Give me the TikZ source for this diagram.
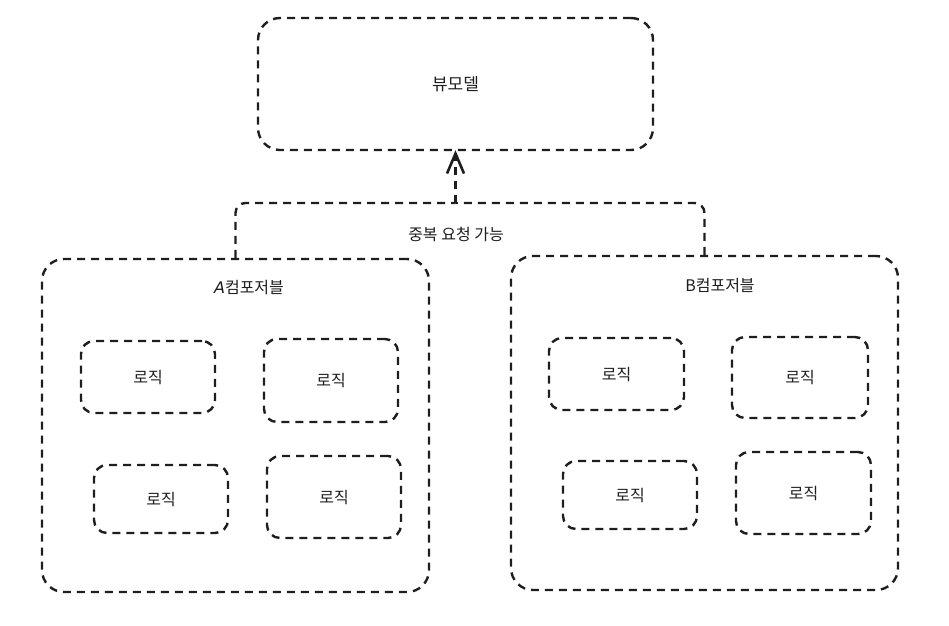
\documentclass[tikz,border=0pt]{standalone}
\usepackage{fontspec}
\setmainfont{Noto Sans CJK KR}
\newfontfamily\latf{DejaVu Sans}
\usetikzlibrary{arrows.meta}
\definecolor{ink}{HTML}{1E1E1E}
\begin{document}
\begin{tikzpicture}[x=1pt,y=-1pt,
  box/.style={draw=ink, line width=2.4pt, dash pattern=on 8pt off 6pt,
    inner sep=0pt, text=ink, font=\fontsize{16}{19}\selectfont},
  bigbox/.style={box, rounded corners=22pt},
  logic/.style={box, rounded corners=13pt},
  lbl/.style={text=ink, inner sep=0pt, font=\fontsize{16}{19}\selectfont},
  conn/.style={draw=ink, line width=2.4pt, dash pattern=on 8pt off 6pt, rounded corners=10pt}
]
\useasboundingbox (0,0) rectangle (949,625);

\node[bigbox, minimum width=395pt, minimum height=132pt,
      font=\fontsize{17}{20}\selectfont] (vm) at (455.5,84) {뷰모델};

\node[bigbox, minimum width=387pt, minimum height=333pt] (A) at (235.5,425.5) {};
\node[lbl] (Alabel) at (249,288) {{\latf\itshape A}컴포저블};

\node[bigbox, minimum width=387pt, minimum height=334pt] (B) at (704.5,423) {};
\node[lbl] (Blabel) at (720,286) {B컴포저블};

% logic boxes in A
\node[logic, minimum width=134pt, minimum height=72pt] (a1) at (148,377) {로직};
\node[logic, minimum width=134pt, minimum height=83pt] (a2) at (331,380.5) {로직};
\node[logic, minimum width=134pt, minimum height=68pt] (a3) at (161,499) {로직};
\node[logic, minimum width=134pt, minimum height=82pt] (a4) at (334,497) {로직};

% logic boxes in B
\node[logic, minimum width=135pt, minimum height=72pt] (b1) at (616.5,374) {로직};
\node[logic, minimum width=136pt, minimum height=81pt] (b2) at (800,377.5) {로직};
\node[logic, minimum width=134pt, minimum height=68pt] (b3) at (630,495) {로직};
\node[logic, minimum width=135pt, minimum height=82pt] (b4) at (803.5,493) {로직};

% connector
\coordinate (j) at (455.5,203);
\draw[conn] (A.north) |- (j);
\draw[conn] (B.north) |- (j);
\draw[conn, -{Straight Barb[length=20pt,width=17pt,line width=2.6pt]}] (j) -- ([yshift=1pt]vm.south);
\node[lbl] (req) at (456,234) {중복 요청 가능};
\end{tikzpicture}
\end{document}
